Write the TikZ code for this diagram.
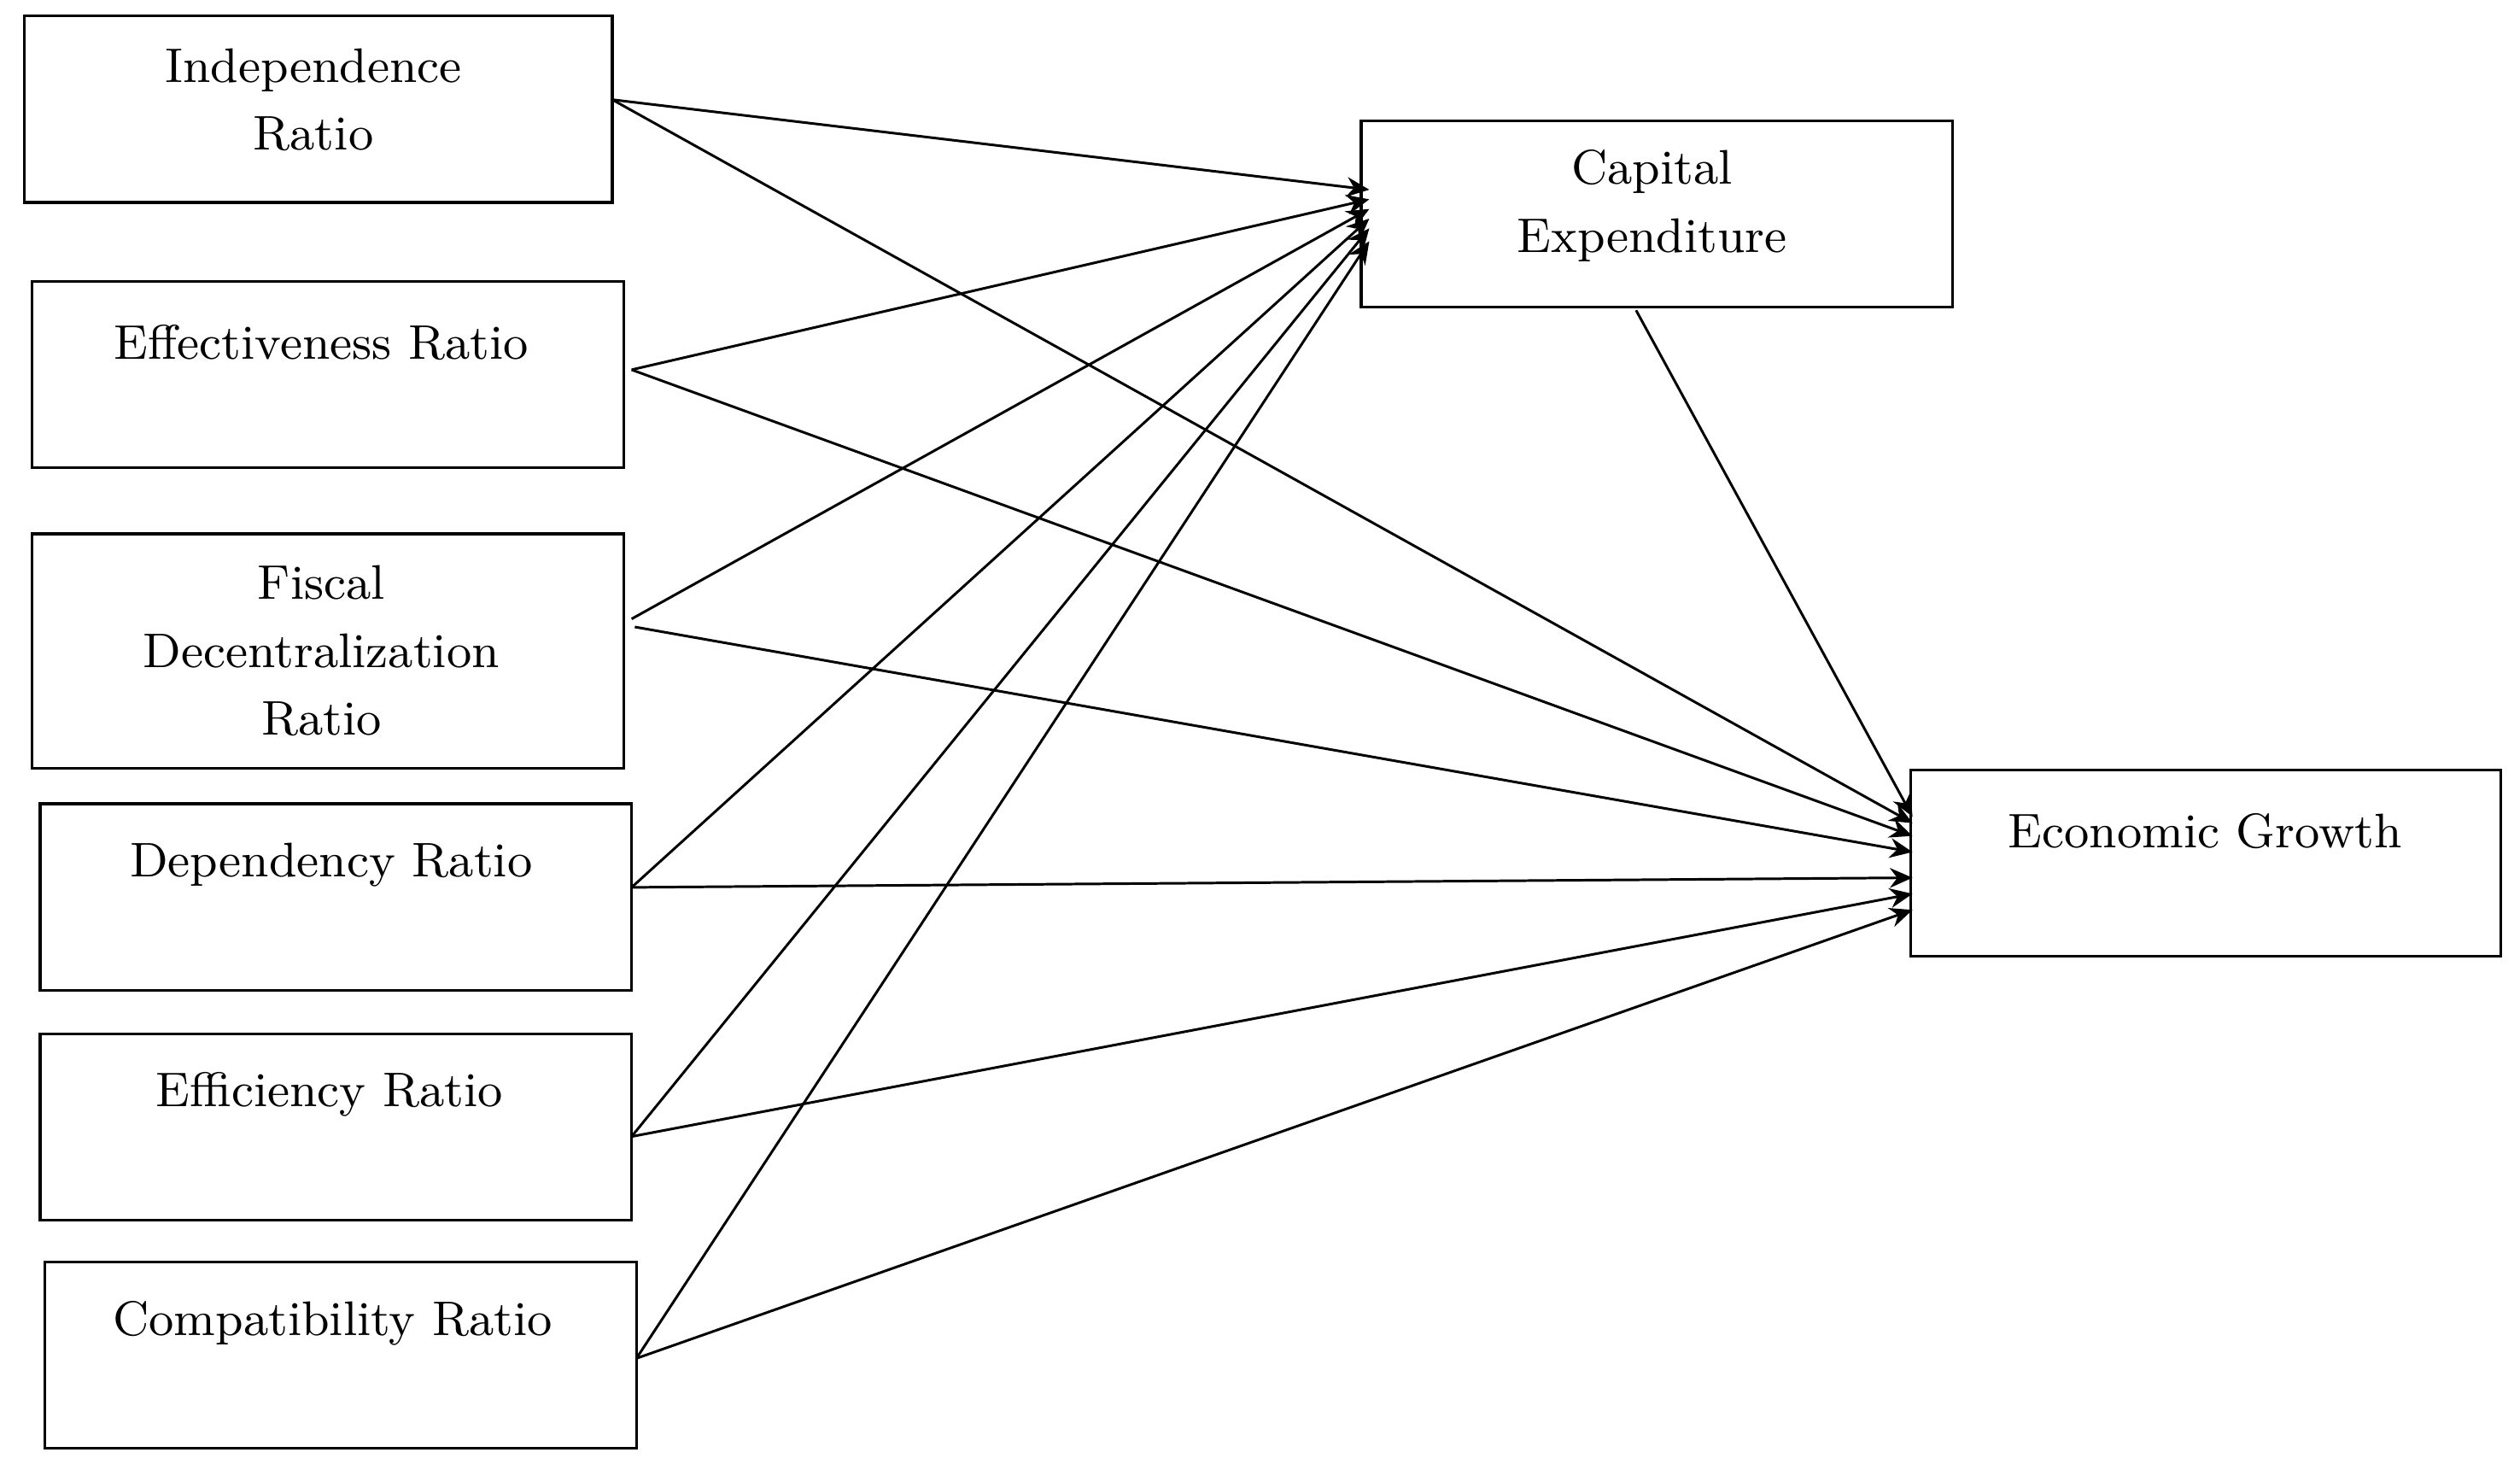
\documentclass[tikz,border=0pt]{standalone}
\usetikzlibrary{arrows.meta}
\begin{document}
\begin{tikzpicture}[x=0.01cm,y=-0.01cm,
  box/.style={draw,line width=0.5pt},
  lbl/.style={font=\fontsize{8.6}{12}\selectfont,align=center,inner sep=0pt},
  arr/.style={-{Stealth[length=4pt,width=3.5pt]},line width=0.45pt}]
\useasboundingbox (0,0) rectangle (1568,914);
\draw[box] (15,10) rectangle (381,126);
\draw[box] (20,175) rectangle (388,291);
\draw[box] (20,332) rectangle (388,478);
\draw[box] (25,500) rectangle (393,616);
\draw[box] (25,643) rectangle (393,759);
\draw[box] (28,785) rectangle (396,901);
\draw[box] (847,75) rectangle (1215,191);
\draw[box] (1189,479) rectangle (1556,595);
\node[lbl] (ti) at (195,62) {Independence\\Ratio};
\node[lbl] (te) at (200,213) {Effectiveness Ratio};
\node[lbl] (tf) at (200,405) {Fiscal\\Decentralization\\Ratio};
\node[lbl] (td) at (206,538) {Dependency Ratio};
\node[lbl] (tef) at (205,681) {Efficiency Ratio};
\node[lbl] (tc) at (207,823) {Compatibility Ratio};
\node[lbl] (tcap) at (1028,128) {Capital\\Expenditure};
\node[lbl] (teg) at (1372,517) {Economic Growth};
\coordinate (i) at (381,62);
\coordinate (e) at (393,230);
\coordinate (f1) at (393,385);
\coordinate (f2) at (395,390);
\coordinate (d) at (393,552);
\coordinate (ef) at (393,707);
\coordinate (c) at (396,845);
\coordinate (capo) at (1018,193);
\coordinate (c1) at (852,118);
\coordinate (c2) at (852,124);
\coordinate (c3) at (852,130);
\coordinate (c4) at (852,136);
\coordinate (c5) at (852,142);
\coordinate (c6) at (852,150);
\coordinate (g0) at (1190,508);
\coordinate (g1) at (1190,512);
\coordinate (g2) at (1190,520);
\coordinate (g3) at (1190,530);
\coordinate (g4) at (1190,546);
\coordinate (g5) at (1190,556);
\coordinate (g6) at (1190,566);
\draw[arr] (i) -- (c1); \draw[arr] (i) -- (g1);
\draw[arr] (e) -- (c2); \draw[arr] (e) -- (g2);
\draw[arr] (f1) -- (c3); \draw[arr] (f2) -- (g3);
\draw[arr] (d) -- (c4); \draw[arr] (d) -- (g4);
\draw[arr] (ef) -- (c5); \draw[arr] (ef) -- (g5);
\draw[arr] (c) -- (c6); \draw[arr] (c) -- (g6);
\draw[arr] (capo) -- (g0);
\end{tikzpicture}
\end{document}
